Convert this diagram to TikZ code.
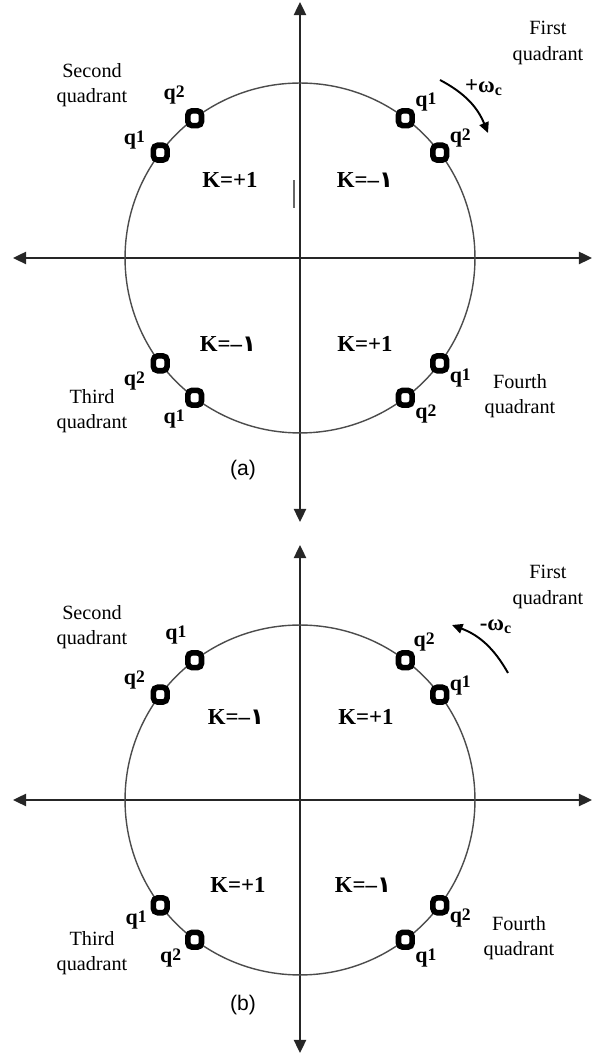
\documentclass[tikz,border=0pt]{standalone}
\usepackage{fontspec}
\setmainfont{Liberation Serif}
\newfontfamily\arialfont{Liberation Sans}
\newfontfamily\arabicfont[Script=Arabic]{DejaVu Sans}
\usepackage{tikz}
\usetikzlibrary{arrows.meta, positioning}

\newcommand{\qlab}[1]{q\raisebox{0.2ex}{\fontsize{10}{10}\selectfont #1}}
\newcommand{\kneg}{K=\textendash{\arabicfont\bfseries ١}}

\begin{document}
\begin{tikzpicture}[x=0.02cm, y=0.02cm,
    axisline/.style={line width=1.1pt, black!85, {Triangle[length=7.5pt,width=7pt]}-{Triangle[length=7.5pt,width=7pt]}},
    ring/.style={line width=0.8pt, black!70},
    qmark/.style={draw=black, fill=white, line width=3.2pt, rounded corners=2.4pt, minimum width=7.8pt, minimum height=8.4pt, inner sep=0pt},
    qtext/.style={font=\fontsize{12.5}{14}\selectfont\bfseries, inner sep=0pt},
    ktext/.style={font=\fontsize{13}{15}\selectfont\bfseries},
    quad/.style={font=\fontsize{11.5}{14.5}\selectfont, align=center},
    spin/.style={line width=1.1pt, -{Triangle[length=6pt,width=5.5pt]}},
    panelcap/.style={font=\arialfont\fontsize{12}{14}\selectfont}]
    \useasboundingbox (0,0) rectangle (598,1055);

    % ---------- (a) ----------
    \begin{scope}[shift={(300,797)}]
    % Axes
    \coordinate (aW) at (-287,0);
    \coordinate (aE) at (292,0);
    \coordinate (aS) at (0,-264);
    \coordinate (aN) at (0,256);
    \draw[axisline] (aW) -- (aE);
    \draw[axisline] (aS) -- (aN);
    \draw[line width=0.8pt, black!60] (-6,50) -- (-6,78);

    % Circle
    \draw[ring] (0,0) circle [radius=3.5cm];

    % Markers
    \node[qmark] (aUL1) at (143:175) {};
    \node[qmark] (aUL2) at (127:175) {};
    \node[qmark] (aUR1) at (53:175) {};
    \node[qmark] (aUR2) at (37:175) {};
    \node[qmark] (aLL2) at (217:175) {};
    \node[qmark] (aLL1) at (233:175) {};
    \node[qmark] (aLR1) at (-37:175) {};
    \node[qmark] (aLR2) at (-53:175) {};

    \node[qtext, above left=-4pt and 3pt of aUL1] (taUL1) {\qlab{1}};
    \node[qtext, above left=2pt and 0pt of aUL2] (taUL2) {\qlab{2}};
    \node[qtext, above right=-2pt and 0pt of aUR1] (taUR1) {\qlab{1}};
    \node[qtext, above right=-3pt and 0pt of aUR2] (taUR2) {\qlab{2}};
    \node[qtext, below left=-1pt and 3pt of aLL2] (taLL2) {\qlab{2}};
    \node[qtext, below left=1pt and 0pt of aLL1] (taLL1) {\qlab{1}};
    \node[qtext, below right=-3pt and 0pt of aLR1] (taLR1) {\qlab{1}};
    \node[qtext, below right=-2pt and 0pt of aLR2] (taLR2) {\qlab{2}};

    % Regions
    \node[ktext] (aK1) at (-70,78) {K=+1};
    \node[ktext] (aK2) at (65,78) {\kneg};
    \node[ktext] (aK3) at (-72,-86) {\kneg};
    \node[ktext] (aK4) at (65,-86) {K=+1};

    % Quadrants
    \node[quad] (aQ1) at (248,215) {First\\quadrant};
    \node[quad] (aQ2) at (-208,173) {Second\\quadrant};
    \node[quad] (aQ3) at (-208,-153) {Third\\quadrant};
    \node[quad] (aQ4) at (220,-138) {Fourth\\quadrant};

    % Rotation
    \coordinate (aR0) at (140,178);
    \coordinate (aR1) at (188,125);
    \draw[spin] (aR0) to[bend left=20] (aR1);
    \node[ktext] (aW1) at (184,170) {+ω\textsubscript{c}};

    \node[panelcap] (aCap) at (-57,-212) {(a)};
    \end{scope}

    % ---------- (b) ----------
    \begin{scope}[shift={(300,255)}]
    % Axes
    \coordinate (bW) at (-287,0);
    \coordinate (bE) at (292,0);
    \coordinate (bS) at (0,-253);
    \coordinate (bN) at (0,255);
    \draw[axisline] (bW) -- (bE);
    \draw[axisline] (bS) -- (bN);

    % Circle
    \draw[ring] (0,0) circle [radius=3.5cm];

    % Markers
    \node[qmark] (bUL1) at (127:175) {};
    \node[qmark] (bUL2) at (143:175) {};
    \node[qmark] (bUR2) at (53:175) {};
    \node[qmark] (bUR1) at (37:175) {};
    \node[qmark] (bLL1) at (217:175) {};
    \node[qmark] (bLL2) at (233:175) {};
    \node[qmark] (bLR2) at (-37:175) {};
    \node[qmark] (bLR1) at (-53:175) {};

    \node[qtext, above left=3pt and -1pt of bUL1] (tbUL1) {\qlab{1}};
    \node[qtext, above left=-3pt and 3pt of bUL2] (tbUL2) {\qlab{2}};
    \node[qtext, above right=-1pt and -1pt of bUR2] (tbUR2) {\qlab{2}};
    \node[qtext, above right=-6pt and 0pt of bUR1] (tbUR1) {\qlab{1}};
    \node[qtext, below left=-3pt and 2pt of bLL1] (tbLL1) {\qlab{1}};
    \node[qtext, below left=-1pt and 2pt of bLL2] (tbLL2) {\qlab{2}};
    \node[qtext, below right=-4pt and 0pt of bLR2] (tbLR2) {\qlab{2}};
    \node[qtext, below right=-1pt and 0pt of bLR1] (tbLR1) {\qlab{1}};

    % Regions
    \node[ktext] (bK1) at (-64,83) {\kneg};
    \node[ktext] (bK2) at (66,83) {K=+1};
    \node[ktext] (bK3) at (-62,-85) {K=+1};
    \node[ktext] (bK4) at (63,-85) {\kneg};

    % Quadrants
    \node[quad] (bQ1) at (248,213) {First\\quadrant};
    \node[quad] (bQ2) at (-208,173) {Second\\quadrant};
    \node[quad] (bQ3) at (-208,-153) {Third\\quadrant};
    \node[quad] (bQ4) at (219,-138) {Fourth\\quadrant};

    % Rotation
    \coordinate (bR0) at (208,127);
    \coordinate (bR1) at (152,175);
    \draw[spin] (bR0) to[bend right=20] (bR1);
    \node[ktext] (bW1) at (196,173) {-ω\textsubscript{c}};

    \node[panelcap] (bCap) at (-57,-205) {(b)};
    \end{scope}
\end{tikzpicture}
\end{document}
